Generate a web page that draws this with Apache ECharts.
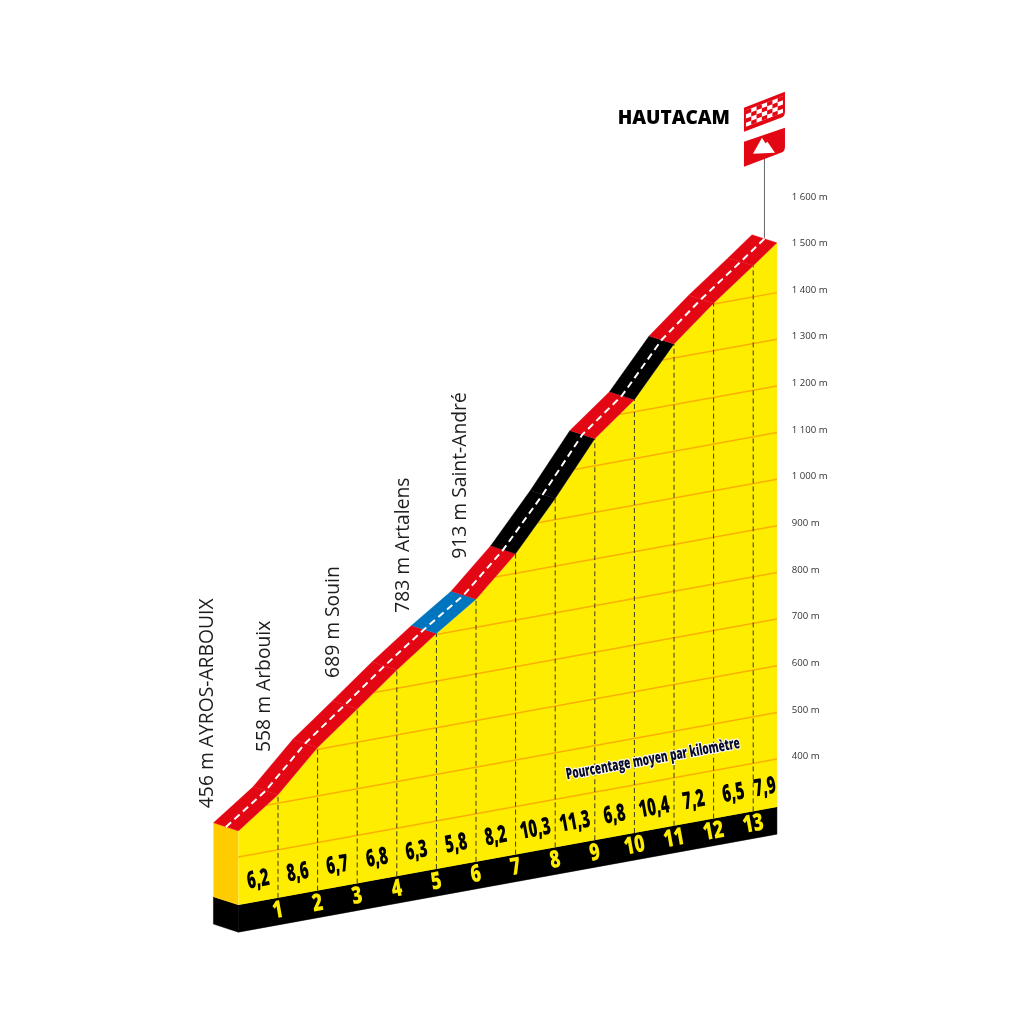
<!DOCTYPE html>
<html>
<head>
<meta charset="utf-8">
<style>html,body{margin:0;padding:0;background:#fff}#c{width:1024px;height:1024px}</style>
<script src="https://cdn.jsdelivr.net/npm/echarts@6/dist/echarts.min.js"></script>
</head>
<body>
<div id="c"></div>
<script>
// ---------- data ----------
const kmMarks = [0,1,2,3,4,5,6,7,8,9,10,11,12,13,13.6];
const elevations = [456,518,604,671,739,802,860,942,1045,1158,1226,1330,1402,1467,1507];
const segmentClass = ['red','red','red','red','red','blue','red','black','black','red','black','red','red','red'];
const percents = ['6,2','8,6','6,7','6,8','6,3','5,8','8,2','10,3','11,3','6,8','10,4','7,2','6,5','7,9'];
const percentKm = [0.5,1.5,2.5,3.5,4.5,5.5,6.5,7.5,8.5,9.5,10.5,11.5,12.5,13.3];
const kmLabels = ['1','2','3','4','5','6','7','8','9','10','11','12','13'];
const kmLabelPos = [1,2,3,4,5,6,7,8,9,10,11,12,13];
const gridElevations = [400,500,600,700,800,900,1000,1100,1200,1300,1400];
const yTicks = [400,500,600,700,800,900,1000,1100,1200,1300,1400,1500,1600];
const yTickLabels = ['400 m','500 m','600 m','700 m','800 m','900 m','1 000 m','1 100 m','1 200 m','1 300 m','1 400 m','1 500 m','1 600 m'];
const placeNames = ['456 m AYROS-ARBOUIX','558 m Arbouix','689 m Souin','783 m Artalens','913 m Saint-André'];
const placeKm = [-0.79,0.67,2.40,4.18,5.60];
const placeElev = [517,615,747,859,953];
const summitName = 'HAUTACAM';
const captionText = 'Pourcentage moyen par kilomètre';

const BASE_TOP = 297, BASE_BOTTOM = 239, PERCENT_ELEV = 343, KMLABEL_ELEV = 269;
const TILT = 15.45, END_KM = 13.6, DEPTH_KM = -0.63, DEPTH_ELEV = 27;
const COLORS = {red:'#E30613', blue:'#0075BF', black:'#000000'};
const FONT = '"Open Sans", sans-serif';
const ROT = -0.18;

// project km + elevation through the axes, on the tilted plane of the drawing
function P(api, km, elev, depth) {
  const d = depth || 0;
  const k = km + DEPTH_KM * d, e = elev + DEPTH_ELEV * d;
  return api.coord([k, e - TILT * (END_KM - k)]);
}
function elevToKm(e) {
  for (let i = 1; i < kmMarks.length; i++) {
    if (elevations[i] >= e) {
      return kmMarks[i-1] + (kmMarks[i]-kmMarks[i-1]) * (e-elevations[i-1]) / (elevations[i]-elevations[i-1]);
    }
  }
  return kmMarks[kmMarks.length-1];
}
const last = kmMarks.length - 1;

const custom = (name, data, renderItem, z) => ({type:'custom', name, data, renderItem, z, silent:true, animation:false, coordinateSystem:'cartesian2d', clip:false});

const series = [
  // left side face and bases
  custom('bases', [0], (p, api) => {
    const s = (k,e,d)=>P(api,k,e,d);
    const E = kmMarks[last];
    return {type:'group', children:[
      {type:'polygon', shape:{points:[s(0,BASE_TOP),s(E,BASE_TOP),s(E,BASE_BOTTOM),s(0,BASE_BOTTOM)]}, style:{fill:'#000', stroke:'#000', lineWidth:0.5}},
      {type:'polygon', shape:{points:[s(0,BASE_TOP,1),s(0,BASE_TOP),s(0,BASE_BOTTOM),s(0,BASE_BOTTOM,1)]}, style:{fill:'#000', stroke:'#000', lineWidth:0.5}},
      {type:'polygon', shape:{points:[s(0,elevations[0],1),s(0,elevations[0]),s(0,BASE_TOP),s(0,BASE_TOP,1)]}, style:{fill:'#FFCC00'}}
    ]};
  }, 1),
  // yellow wall
  custom('wall', [0], (p, api) => {
    const pts = kmMarks.map((k,i)=>P(api,k,elevations[i]));
    pts.push(P(api,kmMarks[last],BASE_TOP), P(api,0,BASE_TOP));
    return {type:'polygon', shape:{points:pts}, style:{fill:'#FFED00'}};
  }, 2),
  // elevation lines on the wall
  custom('gridlines', gridElevations, (p, api) => {
    const e = api.value(1);
    const k0 = Math.max(0, elevToKm(e));
    const a = P(api,k0,e), b = P(api,kmMarks[last],e);
    return {type:'line', shape:{x1:a[0],y1:a[1],x2:b[0],y2:b[1]}, style:{stroke:'#F9B000', lineWidth:1.5}};
  }, 3),
  // km drop lines
  custom('kmlines', kmLabelPos, (p, api) => {
    const k = api.value(1);
    const a = P(api,k,BASE_TOP), b = P(api,k,elevations[kmMarks.indexOf(k)]);
    return {type:'line', shape:{x1:a[0],y1:a[1],x2:b[0],y2:b[1]}, style:{stroke:'#3a3a1a', lineWidth:1, lineDash:[5,3]}};
  }, 4),
  // road
  custom('road', segmentClass.map((c,i)=>i), (p, api) => {
    const i = api.value(1);
    const k0=kmMarks[i],k1=kmMarks[i+1],e0=elevations[i],e1=elevations[i+1];
    return {type:'polygon', shape:{points:[P(api,k0,e0),P(api,k1,e1),P(api,k1,e1,1),P(api,k0,e0,1)]},
      style:{fill:COLORS[segmentClass[i]], stroke:COLORS[segmentClass[i]], lineWidth:0.3}};
  }, 5),
  // centre dashes
  custom('centre', [0], (p, api) => ({type:'polyline',
    shape:{points:kmMarks.map((k,i)=>P(api,k,elevations[i],0.5))},
    style:{stroke:'#fff', fill:null, lineWidth:2, lineDash:[7,4.5]}}), 6),
  // percent labels
  custom('percents', percents.map((t,i)=>i), (p, api) => {
    const i = api.value(1), c = P(api,percentKm[i],PERCENT_ELEV);
    return {type:'text', x:c[0], y:c[1], rotation:-ROT, scaleX:0.62,
      style:{text:percents[i], align:'center', verticalAlign:'middle', fontFamily:FONT, fontWeight:800, fontSize:24, fill:'#000'}};
  }, 7),
  // km labels
  custom('kms', kmLabels.map((t,i)=>i), (p, api) => {
    const i = api.value(1), c = P(api,kmLabelPos[i],KMLABEL_ELEV);
    return {type:'text', x:c[0], y:c[1], rotation:-ROT, scaleX:0.74,
      style:{text:kmLabels[i], align:'center', verticalAlign:'middle', fontFamily:FONT, fontWeight:800, fontSize:24, fill:'#FFED00'}};
  }, 7),
  // caption
  custom('caption', [0], (p, api) => {
    const c = P(api,10.47,448);
    return {type:'text', x:c[0], y:c[1], rotation:-ROT, scaleX:0.665, scaleY:1.05,
      style:{text:captionText, align:'center', verticalAlign:'middle', fontFamily:FONT, fontWeight:800, fontSize:15, fill:'#0b0b2a', stroke:'#fff', lineWidth:2.2}};
  }, 7),
  // place names
  custom('places', placeNames.map((t,i)=>i), (p, api) => {
    const i = api.value(1), c = P(api,placeKm[i],placeElev[i]);
    return {type:'text', x:c[0], y:c[1], rotation:Math.PI/2,
      style:{text:placeNames[i], align:'left', verticalAlign:'middle', fontFamily:FONT, fontSize:19.3, fill:'#1d1d1b'}};
  }, 7),
  // summit flag, sign, pole and name, anchored on the summit
  custom('summit', [0], (p, api) => {
    const c = P(api,kmMarks[last],elevations[last]);
    const checks = [];
    const ox=-31, oy=-132.5, u=5.29, v=4.15, sk=-0.378;
    for (let r=0;r<4;r++) for (let q=0;q<7;q++) {
      if ((r+q)%2) continue;
      const x0=ox+q*u, y0=oy+r*v+q*u*sk;
      checks.push({type:'polygon', shape:{points:[[x0,y0],[x0+u,y0+u*sk],[x0+u,y0+u*sk+v],[x0,y0+v]]}, style:{fill:'#E30613'}});
    }
    return {type:'group', x:c[0], y:c[1], children:[
      {type:'line', shape:{x1:-12.5,y1:-90,x2:-12.5,y2:-5}, style:{stroke:'#666', lineWidth:1}},
      {type:'path', shape:{pathData:'M-33 -135 L8 -151 L8 -131 Q8 -126 4 -125 L-33 -111 Z', layout:'center', x:-33,y:-151,width:41,height:40}, style:{fill:'#E30613'}},
      {type:'polygon', shape:{points:[[-31,-132.5],[6,-146.5],[6,-130],[-31,-116]]}, style:{fill:'#fff'}},
      {type:'group', children:checks},
      {type:'path', shape:{pathData:'M-33 -101 L8 -115 L8 -96 Q8 -91 4 -90 L-33 -76 Z', layout:'center', x:-33,y:-115,width:41,height:39}, style:{fill:'#E30613'}},
      {type:'polygon', shape:{points:[[-24,-89],[-15,-105],[-11.5,-99.5],[-9.5,-101],[-2,-90]]}, style:{fill:'#fff'}},
      {type:'text', x:-47, y:-124.5, style:{text:summitName, align:'right', verticalAlign:'middle', fontFamily:FONT, fontWeight:800, fontSize:19, fill:'#000'}}
    ]};
  }, 8)
];

const chart = echarts.init(document.getElementById('c'), null, {renderer:'canvas'});
chart.setOption({
  backgroundColor:'#fff',
  animation:false,
  grid:{left:198.8, width:594, top:152.7, height:792.9},
  xAxis:{type:'value', min:-1, max:14, interval:1, show:false},
  yAxis:{type:'value', min:0, max:1700, interval:100, position:'right',
    axisLine:{show:false}, axisTick:{show:false}, splitLine:{show:false},
    axisLabel:{customValues:yTicks, margin:-1, align:'left', verticalAlign:'bottom', lineHeight:5, color:'#333', fontFamily:FONT, fontSize:9.6,
      formatter:v=>yTickLabels[yTicks.indexOf(v)]}},
  series
});
</script>
</body>
</html>
